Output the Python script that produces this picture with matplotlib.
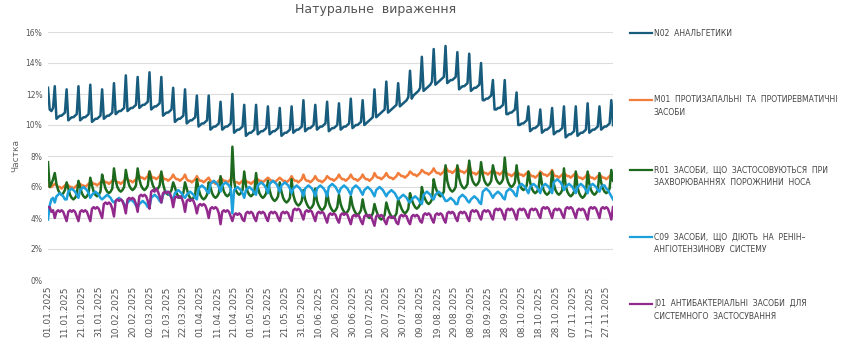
import matplotlib
matplotlib.use("Agg")
import matplotlib.pyplot as plt
from matplotlib.lines import Line2D
import pandas as pd

# daily share, %, 01.01.2025 - 01.12.2025 (one row = Sun..Sat)
n02 = [12.4, 11.0, 10.9, 11.1,
       12.5, 10.4, 10.5, 10.6, 10.6, 10.7, 10.8,
       12.3, 10.3, 10.4, 10.5, 10.5, 10.6, 10.7,
       12.5, 10.3, 10.4, 10.5, 10.5, 10.6, 10.7,
       12.6, 10.2, 10.3, 10.4, 10.4, 10.5, 10.6,
       12.3, 10.4, 10.5, 10.6, 10.6, 10.7, 10.8,
       12.7, 10.7, 10.8, 10.9, 10.9, 11.0, 11.1,
       13.2, 10.9, 11.0, 11.1, 11.1, 11.2, 11.3,
       13.1, 11.1, 11.2, 11.3, 11.3, 11.4, 11.5,
       13.4, 11.0, 11.1, 11.2, 11.2, 11.3, 11.4,
       13.1, 10.6, 10.7, 10.8, 10.8, 10.9, 11.0,
       12.4, 10.2, 10.3, 10.4, 10.4, 10.5, 10.6,
       12.3, 10.1, 10.2, 10.3, 10.3, 10.4, 10.5,
       11.9, 9.9, 10.0, 10.1, 10.1, 10.2, 10.3,
       11.9, 9.7, 9.8, 9.9, 9.9, 10.0, 10.1,
       11.5, 9.7, 9.8, 9.9, 9.9, 10.0, 10.1,
       12.0, 9.5, 9.6, 9.7, 9.7, 9.8, 9.9,
       11.3, 9.3, 9.4, 9.5, 9.5, 9.6, 9.7,
       11.3, 9.4, 9.5, 9.6, 9.6, 9.7, 9.8,
       11.2, 9.4, 9.5, 9.6, 9.6, 9.7, 9.8,
       11.1, 9.3, 9.4, 9.5, 9.5, 9.6, 9.7,
       11.2, 9.5, 9.6, 9.7, 9.7, 9.8, 9.9,
       11.6, 9.6, 9.7, 9.8, 9.8, 9.9, 10.0,
       11.3, 9.7, 9.8, 9.9, 9.9, 10.0, 10.1,
       11.5, 9.6, 9.7, 9.8, 9.8, 9.9, 10.0,
       11.4, 9.7, 9.8, 9.9, 9.9, 10.0, 10.1,
       11.7, 9.8, 9.9, 10.0, 10.0, 10.1, 10.2,
       11.6, 10.0, 10.1, 10.2, 10.3, 10.4, 10.5,
       12.3, 10.5, 10.6, 10.7, 10.8, 10.9, 11.0,
       12.8, 10.8, 10.9, 11.0, 11.1, 11.2, 11.3,
       12.7, 11.2, 11.3, 11.4, 11.5, 11.6, 11.8,
       13.5, 11.7, 11.9, 12.0, 12.1, 12.2, 12.4,
       14.4, 12.2, 12.3, 12.4, 12.5, 12.6, 12.8,
       14.9, 12.6, 12.7, 12.8, 12.9, 13.0, 13.1,
       15.1, 12.7, 12.8, 12.9, 12.9, 13.0, 13.1,
       14.7, 12.3, 12.4, 12.5, 12.5, 12.6, 12.7,
       14.6, 12.2, 12.3, 12.4, 12.4, 12.5, 12.6,
       14.0, 11.6, 11.6, 11.7, 11.7, 11.8, 11.9,
       12.9, 11.0, 11.0, 11.1, 11.1, 11.2, 11.3,
       12.9, 10.7, 10.7, 10.8, 10.8, 10.9, 11.0,
       12.1, 10.0, 10.0, 10.1, 10.1, 10.2, 10.3,
       11.2, 9.6, 9.7, 9.8, 9.8, 9.9, 10.0,
       11.0, 9.5, 9.6, 9.7, 9.7, 9.8, 9.9,
       11.1, 9.4, 9.5, 9.6, 9.6, 9.7, 9.8,
       11.2, 9.2, 9.3, 9.4, 9.4, 9.5, 9.6,
       11.2, 9.3, 9.4, 9.5, 9.5, 9.6, 9.7,
       11.4, 9.5, 9.6, 9.7, 9.7, 9.8, 9.9,
       11.2, 9.7, 9.8, 9.9, 9.9, 10.0, 10.1,
       11.6, 10.0]

m01 = [6.2, 6.0, 6.0, 6.1,
       6.2, 6.1, 6.0, 6.0, 5.9, 6.0, 6.1,
       6.2, 6.1, 6.0, 6.0, 5.9, 6.0, 6.1,
       6.2, 6.2, 6.1, 6.1, 6.0, 6.1, 6.2,
       6.3, 6.3, 6.2, 6.2, 6.1, 6.2, 6.3,
       6.4, 6.4, 6.3, 6.3, 6.2, 6.3, 6.4,
       6.5, 6.4, 6.3, 6.3, 6.2, 6.3, 6.4,
       6.6, 6.5, 6.4, 6.4, 6.3, 6.4, 6.5,
       6.7, 6.7, 6.6, 6.6, 6.5, 6.6, 6.7,
       7.0, 6.7, 6.6, 6.6, 6.5, 6.6, 6.7,
       6.9, 6.6, 6.5, 6.5, 6.4, 6.5, 6.6,
       6.8, 6.6, 6.5, 6.5, 6.4, 6.5, 6.6,
       6.8, 6.5, 6.4, 6.4, 6.3, 6.4, 6.5,
       6.7, 6.5, 6.4, 6.4, 6.3, 6.4, 6.5,
       6.6, 6.4, 6.3, 6.3, 6.2, 6.3, 6.4,
       6.6, 6.5, 6.4, 6.4, 6.3, 6.4, 6.5,
       7.0, 6.4, 6.3, 6.3, 6.2, 6.3, 6.4,
       6.5, 6.4, 6.3, 6.3, 6.2, 6.3, 6.4,
       6.5, 6.5, 6.4, 6.4, 6.3, 6.4, 6.5,
       6.6, 6.5, 6.4, 6.4, 6.3, 6.4, 6.5,
       6.6, 6.5, 6.4, 6.4, 6.3, 6.4, 6.5,
       6.7, 6.5, 6.4, 6.4, 6.3, 6.4, 6.5,
       6.8, 6.5, 6.4, 6.4, 6.3, 6.4, 6.5,
       6.7, 6.5, 6.4, 6.4, 6.3, 6.4, 6.5,
       6.7, 6.6, 6.5, 6.5, 6.4, 6.5, 6.6,
       6.8, 6.6, 6.5, 6.5, 6.4, 6.5, 6.6,
       6.8, 6.6, 6.5, 6.5, 6.4, 6.5, 6.6,
       6.8, 6.6, 6.5, 6.5, 6.4, 6.5, 6.6,
       6.9, 6.7, 6.6, 6.6, 6.5, 6.6, 6.7,
       6.9, 6.7, 6.6, 6.6, 6.5, 6.6, 6.7,
       6.9, 6.8, 6.7, 6.7, 6.6, 6.7, 6.8,
       7.0, 6.9, 6.8, 6.8, 6.7, 6.8, 6.9,
       7.1, 7.0, 6.9, 6.9, 6.8, 6.9, 7.0,
       7.2, 7.0, 6.9, 6.9, 6.8, 6.9, 7.0,
       7.3, 7.1, 7.0, 7.0, 6.9, 7.0, 7.1,
       7.3, 7.1, 7.0, 7.0, 6.9, 7.0, 7.1,
       7.5, 7.0, 6.9, 6.9, 6.8, 6.9, 7.0,
       7.2, 7.0, 6.9, 6.9, 6.8, 6.9, 7.0,
       7.1, 7.0, 6.9, 6.9, 6.8, 6.9, 7.0,
       7.1, 6.9, 6.8, 6.8, 6.7, 6.8, 6.9,
       7.0, 6.9, 6.8, 6.8, 6.7, 6.8, 6.9,
       7.0, 6.8, 6.7, 6.7, 6.6, 6.7, 6.8,
       7.0, 6.9, 6.8, 6.8, 6.7, 6.8, 6.9,
       7.1, 6.8, 6.7, 6.7, 6.6, 6.7, 6.8,
       6.9, 6.8, 6.7, 6.7, 6.6, 6.7, 6.8,
       6.9, 6.7, 6.6, 6.6, 6.5, 6.6, 6.7,
       6.9, 6.7, 6.6, 6.6, 6.5, 6.6, 6.7,
       6.8, 6.7, 6.6, 6.6, 6.5, 6.6, 6.7,
       6.8, 6.6]

r01 = [7.6, 6.0, 6.2, 6.5,
       6.9, 6.2, 5.8, 5.6, 5.5, 5.6, 5.8,
       6.3, 5.9, 5.5, 5.3, 5.2, 5.3, 5.5,
       6.4, 6.0, 5.6, 5.4, 5.3, 5.4, 5.6,
       6.6, 6.1, 5.7, 5.5, 5.4, 5.5, 5.7,
       6.8, 6.3, 5.9, 5.7, 5.6, 5.7, 5.9,
       7.2, 6.4, 6.0, 5.8, 5.7, 5.8, 6.0,
       7.1, 6.5, 6.1, 5.9, 5.8, 5.9, 6.1,
       7.2, 6.5, 6.1, 5.9, 5.8, 5.9, 6.1,
       7.0, 6.5, 6.1, 5.9, 5.8, 5.9, 6.1,
       7.0, 6.2, 5.8, 5.6, 5.5, 5.6, 5.8,
       6.3, 6.0, 5.6, 5.4, 5.3, 5.4, 5.6,
       6.3, 5.9, 5.5, 5.3, 5.2, 5.3, 5.5,
       6.5, 5.9, 5.5, 5.3, 5.2, 5.3, 5.5,
       6.3, 6.0, 5.6, 5.4, 5.3, 5.4, 5.6,
       6.7, 6.1, 5.7, 5.5, 5.4, 5.5, 5.7,
       8.6, 6.4, 5.8, 5.6, 5.5, 5.6, 5.8,
       7.0, 6.1, 5.7, 5.5, 5.4, 5.5, 5.7,
       6.9, 6.0, 5.6, 5.4, 5.3, 5.4, 5.6,
       6.4, 5.8, 5.4, 5.2, 5.1, 5.2, 5.4,
       6.3, 5.7, 5.3, 5.1, 5.0, 5.1, 5.3,
       6.5, 5.5, 5.1, 4.9, 4.8, 4.9, 5.1,
       5.8, 5.2, 4.9, 4.7, 4.6, 4.7, 4.9,
       5.9, 5.1, 4.8, 4.6, 4.5, 4.6, 4.8,
       5.7, 5.0, 4.7, 4.5, 4.4, 4.5, 4.7,
       5.5, 4.9, 4.6, 4.4, 4.3, 4.4, 4.6,
       5.4, 4.8, 4.5, 4.3, 4.2, 4.3, 4.5,
       5.2, 4.6, 4.3, 4.1, 4.0, 4.1, 4.3,
       4.9, 4.5, 4.2, 4.0, 3.9, 4.0, 4.2,
       5.0, 4.6, 4.3, 4.1, 4.0, 4.1, 4.3,
       5.2, 4.9, 4.6, 4.4, 4.3, 4.4, 4.6,
       5.6, 5.2, 4.9, 4.7, 4.6, 4.7, 4.9,
       6.0, 5.5, 5.2, 5.0, 4.9, 5.0, 5.2,
       6.5, 6.0, 5.7, 5.5, 5.4, 5.5, 5.7,
       7.4, 6.4, 6.0, 5.8, 5.7, 5.8, 6.0,
       7.4, 6.6, 6.2, 6.0, 5.9, 6.0, 6.2,
       7.7, 6.8, 6.4, 6.2, 6.1, 6.2, 6.4,
       7.6, 6.8, 6.4, 6.2, 6.1, 6.2, 6.4,
       7.4, 6.9, 6.5, 6.3, 6.2, 6.3, 6.5,
       7.9, 6.7, 6.3, 6.1, 6.0, 6.1, 6.3,
       7.4, 6.5, 6.1, 5.9, 5.8, 5.9, 6.1,
       7.0, 6.3, 5.9, 5.7, 5.6, 5.7, 5.9,
       6.9, 6.2, 5.8, 5.6, 5.5, 5.6, 5.8,
       7.0, 6.2, 5.8, 5.6, 5.5, 5.6, 5.8,
       7.2, 6.1, 5.7, 5.5, 5.4, 5.5, 5.7,
       7.0, 6.0, 5.6, 5.4, 5.3, 5.4, 5.6,
       7.0, 6.2, 5.8, 5.6, 5.5, 5.6, 5.8,
       6.9, 6.3, 5.9, 5.7, 5.6, 5.7, 5.9,
       7.1, 6.4]

c09 = [3.9, 4.8, 5.2, 5.3,
       5.0, 5.4, 5.5, 5.6, 5.5, 5.4, 5.2,
       5.2, 5.7, 5.8, 5.9, 5.8, 5.7, 5.5,
       5.3, 5.8, 5.9, 6.0, 5.9, 5.8, 5.6,
       5.3, 5.5, 5.6, 5.7, 5.6, 5.5, 5.3,
       5.2, 5.3, 5.4, 5.5, 5.4, 5.3, 5.1,
       5.0, 5.1, 5.2, 5.3, 5.2, 5.1, 4.9,
       4.7, 5.0, 5.1, 5.2, 5.1, 5.0, 4.8,
       4.7, 4.9, 5.0, 5.1, 5.0, 4.9, 4.7,
       4.7, 5.3, 5.4, 5.5, 5.4, 5.3, 5.1,
       5.0, 5.5, 5.6, 5.7, 5.6, 5.5, 5.3,
       5.2, 5.6, 5.7, 5.8, 5.7, 5.6, 5.4,
       5.3, 5.5, 5.6, 5.7, 5.6, 5.5, 5.3,
       5.2, 5.9, 6.0, 6.1, 6.0, 5.9, 5.7,
       5.6, 6.2, 6.3, 6.4, 6.3, 6.2, 6.0,
       5.7, 6.1, 6.2, 6.3, 6.2, 6.1, 5.9,
       4.3, 5.8, 5.9, 6.0, 5.9, 5.8, 5.6,
       5.3, 5.8, 5.9, 6.0, 5.9, 5.8, 5.6,
       5.5, 6.1, 6.2, 6.3, 6.2, 6.1, 5.9,
       5.6, 6.2, 6.3, 6.4, 6.3, 6.2, 6.0,
       5.7, 6.1, 6.2, 6.3, 6.2, 6.1, 5.9,
       5.6, 5.9, 6.0, 6.1, 6.0, 5.9, 5.7,
       5.4, 5.9, 6.0, 6.1, 6.0, 5.9, 5.7,
       5.4, 5.9, 6.0, 6.1, 6.0, 5.9, 5.7,
       5.4, 6.0, 6.1, 6.2, 6.1, 6.0, 5.8,
       5.6, 5.9, 6.0, 6.1, 6.0, 5.9, 5.7,
       5.5, 5.9, 6.0, 6.1, 6.0, 5.9, 5.7,
       5.5, 5.8, 5.9, 6.0, 5.9, 5.8, 5.6,
       5.4, 5.8, 5.9, 6.0, 5.9, 5.8, 5.6,
       5.4, 5.6, 5.7, 5.8, 5.7, 5.6, 5.4,
       5.2, 5.3, 5.4, 5.5, 5.4, 5.3, 5.1,
       5.0, 5.2, 5.3, 5.4, 5.3, 5.2, 5.0,
       4.9, 5.5, 5.6, 5.7, 5.6, 5.5, 5.3,
       5.2, 5.5, 5.6, 5.7, 5.6, 5.5, 5.3,
       5.1, 5.1, 5.2, 5.3, 5.2, 5.1, 4.9,
       4.9, 5.3, 5.4, 5.5, 5.4, 5.3, 5.1,
       5.0, 5.2, 5.3, 5.4, 5.3, 5.2, 5.0,
       4.9, 5.7, 5.8, 5.9, 5.8, 5.7, 5.5,
       5.3, 5.5, 5.6, 5.7, 5.6, 5.5, 5.3,
       5.2, 5.7, 5.8, 5.9, 5.8, 5.7, 5.5,
       5.4, 6.0, 6.1, 6.2, 6.1, 6.0, 5.8,
       5.6, 6.0, 6.1, 6.2, 6.1, 6.0, 5.8,
       5.6, 6.0, 6.1, 6.2, 6.1, 6.0, 5.8,
       5.6, 6.3, 6.4, 6.5, 6.4, 6.3, 6.1,
       5.8, 6.0, 6.1, 6.2, 6.1, 6.0, 5.8,
       5.6, 6.0, 6.1, 6.2, 6.1, 6.0, 5.8,
       5.6, 6.0, 6.1, 6.2, 6.1, 6.0, 5.8,
       5.7, 6.0, 6.1, 6.1, 5.9, 5.8, 5.6,
       5.4, 5.2]

j01 = [4.7, 4.7, 4.4, 4.5,
       4.0, 4.4, 4.5, 4.4, 4.5, 4.4, 4.1,
       3.8, 4.4, 4.5, 4.4, 4.5, 4.4, 4.1,
       3.8, 4.4, 4.5, 4.4, 4.5, 4.4, 4.1,
       3.8, 4.6, 4.7, 4.6, 4.7, 4.6, 4.3,
       4.0, 4.9, 5.0, 4.9, 5.0, 4.9, 4.6,
       4.1, 5.1, 5.2, 5.1, 5.2, 5.1, 4.8,
       4.3, 5.2, 5.3, 5.2, 5.3, 5.2, 4.9,
       4.4, 5.4, 5.5, 5.4, 5.5, 5.4, 5.1,
       4.6, 5.7, 5.8, 5.7, 5.9, 5.7, 5.4,
       5.0, 5.6, 5.7, 5.6, 5.7, 5.6, 5.3,
       4.7, 5.3, 5.4, 5.3, 5.4, 5.3, 5.0,
       4.4, 5.1, 5.2, 5.1, 5.2, 5.1, 4.8,
       4.3, 4.8, 4.9, 4.8, 4.9, 4.8, 4.5,
       4.0, 4.6, 4.7, 4.6, 4.7, 4.6, 4.3,
       3.6, 4.4, 4.5, 4.4, 4.5, 4.4, 4.1,
       3.8, 4.2, 4.3, 4.2, 4.3, 4.2, 3.9,
       3.8, 4.3, 4.4, 4.3, 4.4, 4.3, 4.0,
       3.8, 4.3, 4.4, 4.3, 4.4, 4.3, 4.0,
       3.8, 4.3, 4.4, 4.3, 4.4, 4.3, 4.0,
       3.8, 4.3, 4.4, 4.3, 4.4, 4.3, 4.0,
       3.8, 4.5, 4.6, 4.5, 4.6, 4.5, 4.2,
       3.9, 4.4, 4.5, 4.4, 4.5, 4.4, 4.1,
       3.8, 4.3, 4.4, 4.3, 4.4, 4.3, 4.0,
       3.7, 4.2, 4.3, 4.2, 4.3, 4.2, 3.9,
       3.7, 4.2, 4.3, 4.2, 4.3, 4.2, 3.9,
       3.6, 4.1, 4.2, 4.1, 4.2, 4.1, 3.8,
       3.6, 4.1, 4.2, 4.1, 4.2, 4.1, 3.8,
       3.5, 4.1, 4.2, 4.1, 4.2, 4.1, 3.8,
       3.6, 4.0, 4.1, 4.0, 4.1, 4.0, 3.7,
       3.6, 4.1, 4.2, 4.1, 4.2, 4.1, 3.8,
       3.6, 4.1, 4.2, 4.1, 4.2, 4.1, 3.8,
       3.7, 4.2, 4.3, 4.2, 4.3, 4.2, 3.9,
       3.7, 4.2, 4.3, 4.2, 4.3, 4.2, 3.9,
       3.7, 4.3, 4.4, 4.3, 4.4, 4.3, 4.0,
       3.8, 4.3, 4.4, 4.3, 4.4, 4.3, 4.0,
       3.8, 4.4, 4.5, 4.4, 4.5, 4.4, 4.1,
       3.9, 4.4, 4.5, 4.4, 4.5, 4.4, 4.1,
       3.9, 4.5, 4.6, 4.5, 4.6, 4.5, 4.2,
       3.9, 4.5, 4.6, 4.5, 4.6, 4.5, 4.2,
       3.9, 4.5, 4.6, 4.5, 4.6, 4.5, 4.2,
       4.0, 4.5, 4.6, 4.5, 4.6, 4.5, 4.2,
       4.0, 4.6, 4.7, 4.6, 4.7, 4.6, 4.3,
       4.0, 4.5, 4.6, 4.5, 4.6, 4.5, 4.2,
       4.0, 4.6, 4.7, 4.6, 4.7, 4.6, 4.3,
       4.0, 4.5, 4.6, 4.5, 4.6, 4.5, 4.2,
       3.9, 4.6, 4.7, 4.6, 4.7, 4.6, 4.3,
       4.0, 4.6, 4.7, 4.6, 4.7, 4.6, 4.3,
       3.9, 4.7]

labels = [
    ["N02  АНАЛЬГЕТИКИ"],
    ["M01  ПРОТИЗАПАЛЬНІ  ТА  ПРОТИРЕВМАТИЧНІ", "ЗАСОБИ"],
    ["R01  ЗАСОБИ,  ЩО  ЗАСТОСОВУЮТЬСЯ  ПРИ", "ЗАХВОРЮВАННЯХ  ПОРОЖНИНИ  НОСА"],
    ["C09  ЗАСОБИ,  ЩО  ДІЮТЬ  НА  РЕНІН–", "АНГІОТЕНЗИНОВУ  СИСТЕМУ"],
    ["J01  АНТИБАКТЕРІАЛЬНІ  ЗАСОБИ  ДЛЯ", "СИСТЕМНОГО  ЗАСТОСУВАННЯ"],
]
colors = ["#175b7d", "#f27c3a", "#1d6a1f", "#1ea0dd", "#922a8e"]
series = [n02, m01, r01, c09, j01]

dates = pd.date_range("2025-01-01", periods=len(n02), freq="D")

W, H = 850, 346
fig = plt.figure(figsize=(W / 100, H / 100), dpi=100)
ax = fig.add_axes([48 / W, 1 - 280 / H, (613 - 48) / W, (280 - 32) / H])

for vals, c in zip(series, colors):
    ax.plot(dates, vals, color=c, lw=1.8, solid_joinstyle="round")

ax.set_xlim(dates[0], dates[-1])
ax.set_ylim(0, 16)
ax.set_yticks(range(0, 17, 2))
ax.set_yticklabels([f"{v}%" for v in range(0, 17, 2)], fontsize=5.5, color="#555555")
ax.set_xticks(dates[::10])
ax.set_xticklabels([d.strftime("%d.%m.%Y") for d in dates[::10]],
                   rotation=90, fontsize=6.5, color="#555555")
ax.tick_params(length=0, pad=4)
ax.grid(axis="y", color="#dddddd", lw=0.8)
ax.set_axisbelow(True)
for s in ax.spines.values():
    s.set_visible(False)
ax.set_ylabel("Частка", fontsize=6.5, color="#666666", labelpad=4)

fig.text(376 / W, 1 - 10 / H, "Натуральне  вираження", ha="center", va="center",
         fontsize=9, color="#555555")

# legend on the right
leg_y = [33, 100, 170, 237, 304]
for lines, c, y in zip(labels, colors, leg_y):
    fig.add_artist(Line2D([630 / W, 652 / W], [1 - y / H, 1 - y / H],
                          color=c, lw=1.6, transform=fig.transFigure))
    for i, t in enumerate(lines):
        fig.text(654 / W, 1 - (y + i * 12.5) / H, t, ha="left", va="center",
                 fontsize=5.5, color="#444444")

fig.savefig("out.png", dpi=100)
